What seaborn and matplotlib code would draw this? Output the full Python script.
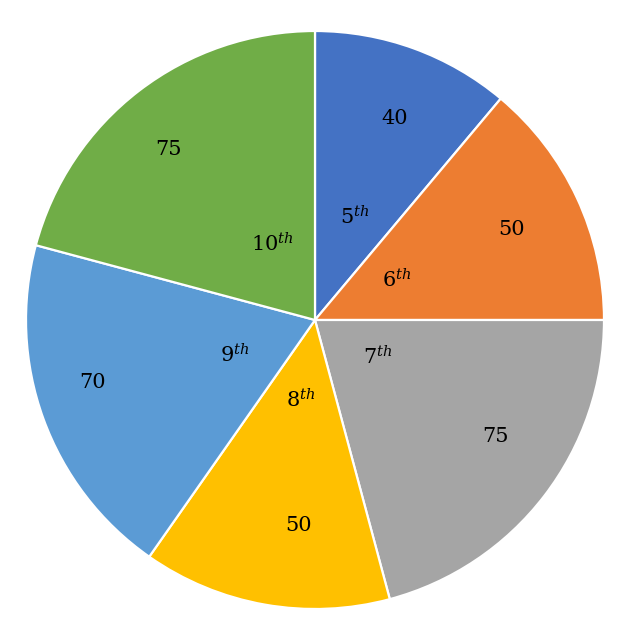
import numpy as np
import matplotlib
matplotlib.use("Agg")
import matplotlib.pyplot as plt
import seaborn as sns

classes = ["5", "6", "7", "8", "9", "10"]
degrees = [40, 50, 75, 50, 70, 75]
colors = ["#4472C4", "#ED7D31", "#A5A5A5", "#FFC000", "#5B9BD5", "#70AD47"]

# label placement (angle in degrees, radius as fraction of pie radius)
value_angle = [68.3, 24.8, -33.0, -94.7, -164.2, 130.5]
value_rad = [0.75, 0.75, 0.743, 0.712, 0.80, 0.778]
class_angle = [68.8, 26.0, -30.4, -99.9, -156.4, 119.5]
class_rad = [0.382, 0.316, 0.253, 0.281, 0.302, 0.302]

sns.set_style("white")
plt.rcParams["font.family"] = ["DejaVu Serif"]
plt.rcParams["mathtext.fontset"] = "dejavuserif"

fig = plt.figure(figsize=(6.33, 6.24), dpi=100)
ax = fig.add_axes([0.0, 0.0, 1.0, 1.0])

ax.pie(degrees, colors=colors, startangle=90, counterclock=False,
       wedgeprops=dict(edgecolor="white", linewidth=1.6), radius=1.0)

for v, a, r in zip(degrees, value_angle, value_rad):
    t = np.deg2rad(a)
    ax.text(r * np.cos(t), r * np.sin(t), str(v), ha="center", va="center",
            fontsize=15, color="black")

for c, a, r in zip(classes, class_angle, class_rad):
    t = np.deg2rad(a)
    ax.text(r * np.cos(t), r * np.sin(t), c + r"$^{th}$", ha="center", va="center",
            fontsize=15, color="black")

# pie centre ~ (315, 320) px, radius ~ 289 px
ax.set_xlim(-315 / 289, (633 - 315) / 289)
ax.set_ylim(-(624 - 320) / 289, 320 / 289)
ax.set_aspect("equal")
ax.axis("off")

fig.savefig("out.png", dpi=100)
